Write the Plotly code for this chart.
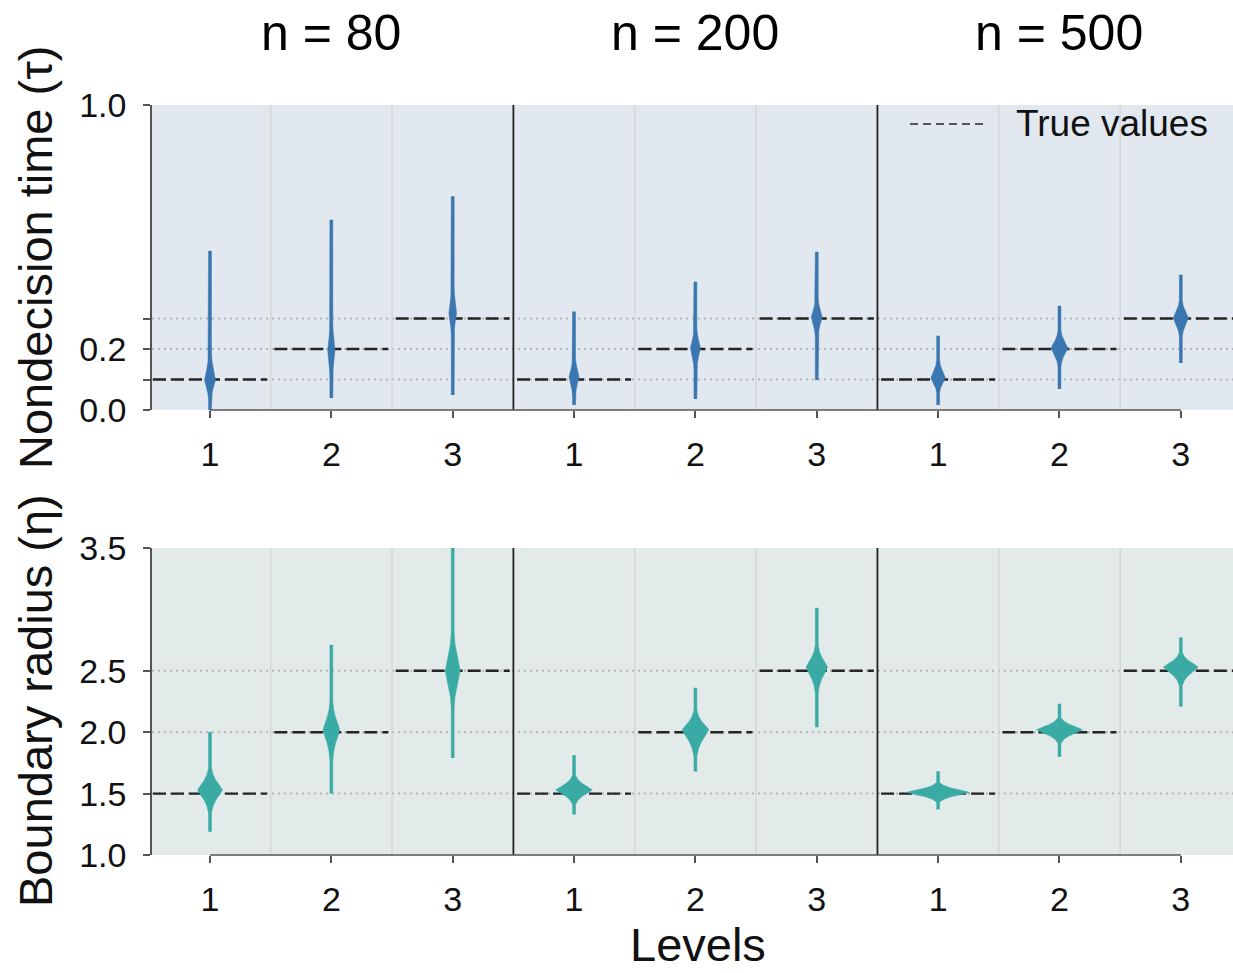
import plotly.graph_objects as go

W, H = 1233, 973

# ---------------- data ----------------
positions = list(range(9))
level_labels = ["1", "2", "3", "1", "2", "3", "1", "2", "3"]
group_labels = ["n = 80", "n = 200", "n = 500"]
group_centers = [1, 4, 7]

true_tau = [0.1, 0.2, 0.3]
true_eta = [1.5, 2.0, 2.5]

# Nondecision time (tau) posterior violins, one per position
tau_lo = [0.0, 0.039, 0.049, 0.016, 0.036, 0.098, 0.016, 0.069, 0.154]
tau_body_lo = [0.033, 0.098, 0.246, 0.043, 0.131, 0.239, 0.056, 0.141, 0.239]
tau_peak = [0.098, 0.197, 0.318, 0.108, 0.203, 0.305, 0.105, 0.203, 0.302]
tau_body_hi = [0.187, 0.285, 0.403, 0.174, 0.269, 0.367, 0.164, 0.262, 0.360]
tau_hi = [0.521, 0.623, 0.700, 0.322, 0.420, 0.518, 0.243, 0.341, 0.443]
tau_halfwidth = [0.045, 0.030, 0.032, 0.041, 0.041, 0.045, 0.060, 0.069, 0.062]

# Boundary radius (eta) posterior violins
eta_lo = [1.19, 1.50, 1.79, 1.33, 1.68, 2.04, 1.37, 1.80, 2.21]
eta_body_lo = [1.34, 1.77, 2.20, 1.41, 1.80, 2.32, 1.43, 1.91, 2.38]
eta_peak = [1.53, 2.02, 2.50, 1.53, 2.02, 2.53, 1.51, 2.02, 2.53]
eta_body_hi = [1.71, 2.25, 2.81, 1.65, 2.18, 2.71, 1.59, 2.12, 2.65]
eta_hi = [2.00, 2.71, 3.55, 1.81, 2.36, 3.01, 1.68, 2.23, 2.77]
eta_halfwidth = [0.103, 0.069, 0.062, 0.151, 0.110, 0.089, 0.260, 0.190, 0.144]

tau_ticks = [0.0, 0.1, 0.2, 0.3, 1.0]
tau_ticktext = ["0.0", "", "0.2", "", "1.0"]
eta_ticks = [1.0, 1.5, 2.0, 2.5, 3.5]
eta_ticktext = ["1.0", "1.5", "2.0", "2.5", "3.5"]

# ---------------- style ----------------
FONT = "Liberation Sans, Arial, Helvetica, sans-serif"
TAU_COLOR = "#3a76af"
ETA_COLOR = "#3aaaa5"
TAU_BG = "#e1e8f0"
ETA_BG = "#e2eaea"
SPINE = "#555555"
PROFILE_T = [0.0, 0.3, 0.55, 0.8, 1.0]
PROFILE_W = [0.0, 0.14, 0.38, 0.74, 1.0]
TAIL_HW = 0.012


def violin_outline(c, lo, blo, pk, bhi, hi, hw):
    pts = [(lo, TAIL_HW)]
    for t, f in zip(PROFILE_T, PROFILE_W):
        pts.append((blo + (pk - blo) * t, TAIL_HW + (hw - TAIL_HW) * f))
    for t, f in reversed(list(zip(PROFILE_T[:-1], PROFILE_W[:-1]))):
        pts.append((bhi - (bhi - pk) * t, TAIL_HW + (hw - TAIL_HW) * f))
    pts.append((hi, TAIL_HW))
    ys = [p[0] for p in pts]
    ws = [p[1] for p in pts]
    xs = [c + w for w in ws] + [c - w for w in reversed(ws)]
    yy = ys + list(reversed(ys))
    return xs, yy


fig = go.Figure()

x_dom = [152 / W, 1.0]
top_dom = [1 - 410 / H, 1 - 105 / H]
bot_dom = [1 - 855 / H, 1 - 548 / H]

rows = [
    dict(xa="x", ya="y", yref="y", true=true_tau, color=TAU_COLOR, bg=TAU_BG,
         lo=tau_lo, blo=tau_body_lo, pk=tau_peak, bhi=tau_body_hi, hi=tau_hi, hw=tau_halfwidth),
    dict(xa="x2", ya="y2", yref="y2", true=true_eta, color=ETA_COLOR, bg=ETA_BG,
         lo=eta_lo, blo=eta_body_lo, pk=eta_peak, bhi=eta_body_hi, hi=eta_hi, hw=eta_halfwidth),
]

shapes = []
for r in rows:
    xref = r["xa"]
    yref = r["yref"]
    # background
    shapes.append(dict(type="rect", xref=f"{xref} domain", yref=f"{yref} domain",
                       x0=0, x1=1, y0=0, y1=1, fillcolor=r["bg"], line_width=0, layer="below"))
    # dotted reference lines across panel
    for v in r["true"]:
        shapes.append(dict(type="line", xref=f"{xref} domain", yref=yref, x0=0, x1=1, y0=v, y1=v,
                           line=dict(color="#b6b6b6", width=2, dash="2px,4px"), layer="below"))
    # vertical separators
    for p in positions:
        xv = p + 0.5
        if xv in (2.5, 5.5):
            shapes.append(dict(type="line", xref=xref, yref=f"{yref} domain", x0=xv, x1=xv, y0=0, y1=1,
                               line=dict(color="#222222", width=1.8), layer="below"))
        else:
            shapes.append(dict(type="line", xref=xref, yref=f"{yref} domain", x0=xv, x1=xv, y0=0, y1=1,
                               line=dict(color="#d2d2d2", width=1.2), layer="below"))
    # trimmed bottom spine
    shapes.append(dict(type="line", xref=xref, yref=f"{yref} domain", x0=0, x1=8, y0=0, y1=0,
                       line=dict(color=SPINE, width=1.6)))

    # true-value dashed segments
    for g in range(3):
        for lvl in range(3):
            p = g * 3 + lvl
            v = r["true"][lvl]
            fig.add_trace(go.Scatter(x=[p - 0.47, p + 0.47], y=[v, v], mode="lines",
                                     line=dict(color="#242424", width=2.4, dash="13px,5px"),
                                     xaxis=r["xa"], yaxis=r["ya"], showlegend=False, hoverinfo="skip"))
    # violins
    for p in positions:
        xs, ys = violin_outline(p, r["lo"][p], r["blo"][p], r["pk"][p], r["bhi"][p], r["hi"][p], r["hw"][p])
        fig.add_trace(go.Scatter(x=xs, y=ys, mode="lines", fill="toself", fillcolor=r["color"],
                                 line=dict(color=r["color"], width=0.5),
                                 xaxis=r["xa"], yaxis=r["ya"], showlegend=False, hoverinfo="skip"))

# legend sample
shapes.append(dict(type="line", xref="paper", yref="paper", x0=910 / W, x1=985 / W,
                   y0=1 - 124 / H, y1=1 - 124 / H, line=dict(color="#555555", width=2, dash="8px,5px")))

annotations = []
for lab, c in zip(group_labels, group_centers):
    annotations.append(dict(text=lab, x=c, xref="x", y=1 - 33 / H, yref="paper", showarrow=False,
                            xanchor="center", yanchor="middle", font=dict(size=50, color="#000", family=FONT)))
annotations.append(dict(text="True values", x=1014 / W, y=1 - 124 / H, xref="paper", yref="paper",
                        showarrow=False, xanchor="left", yanchor="middle",
                        font=dict(size=37, color="#111", family=FONT)))
annotations.append(dict(text="Nondecision time (τ)", x=35 / W, y=1 - 258 / H, xref="paper", yref="paper",
                        textangle=-90, showarrow=False, xanchor="center", yanchor="middle",
                        font=dict(size=47, color="#111", family=FONT)))
annotations.append(dict(text="Boundary radius (η)", x=35 / W, y=1 - 701 / H, xref="paper", yref="paper",
                        textangle=-90, showarrow=False, xanchor="center", yanchor="middle",
                        font=dict(size=47, color="#111", family=FONT)))
annotations.append(dict(text="Levels", x=698 / W, y=1 - 944 / H, xref="paper", yref="paper",
                        showarrow=False, xanchor="center", yanchor="middle",
                        font=dict(size=47, color="#111", family=FONT)))

xaxis_common = dict(range=[-0.478, 8.43], tickvals=positions, ticktext=level_labels,
                    showgrid=False, zeroline=False, showline=False, ticks="outside", ticklen=7,
                    tickcolor=SPINE, tickwidth=1.5, ticklabelstandoff=7, automargin=False,
                    tickfont=dict(size=34, color="#111", family=FONT), fixedrange=True)
yaxis_common = dict(showgrid=False, zeroline=False, showline=True, linecolor=SPINE, linewidth=1.6,
                    ticks="outside", ticklen=7, tickcolor=SPINE, tickwidth=1.5, ticklabelstandoff=10,
                    automargin=False,
                    tickfont=dict(size=34, color="#111", family=FONT), fixedrange=True)

fig.update_layout(
    width=W, height=H,
    margin=dict(l=0, r=0, t=0, b=0, autoexpand=False),
    paper_bgcolor="white", plot_bgcolor="rgba(0,0,0,0)",
    showlegend=False,
    font=dict(family=FONT),
    xaxis=dict(domain=x_dom, anchor="y", **xaxis_common),
    yaxis=dict(domain=top_dom, anchor="x", range=[0, 1.0], tickvals=tau_ticks, ticktext=tau_ticktext,
               **yaxis_common),
    xaxis2=dict(domain=x_dom, anchor="y2", **xaxis_common),
    yaxis2=dict(domain=bot_dom, anchor="x2", range=[1.0, 3.5], tickvals=eta_ticks, ticktext=eta_ticktext,
                **yaxis_common),
    shapes=shapes,
    annotations=annotations,
)

fig.write_html("out.html")
